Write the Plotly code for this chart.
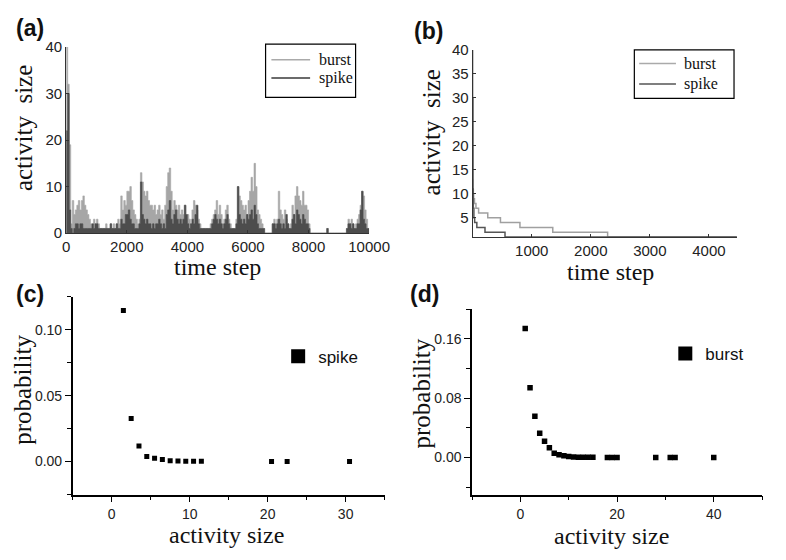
import numpy as np
import plotly.graph_objects as go

# ---------------- data ----------------
# (a) activity size time series, one value per 50 time steps (0 .. 9950)
step_width = 50
burst_series = [
    40, 32, 19, 2, 7, 4, 5, 6, 7, 5,
    7, 8, 6, 5, 4, 3, 2, 1, 3, 2,
    3, 2, 1, 1, 1, 1, 2, 1, 1, 2,
    1, 2, 1, 2, 3, 2, 8, 5, 7, 6,
    9, 9, 10, 7, 5, 4, 3, 2, 3, 13,
    11, 9, 8, 9, 7, 6, 6, 5, 6, 4,
    5, 6, 4, 5, 3, 6, 10, 13, 14, 9,
    5, 7, 6, 5, 6, 4, 5, 4, 6, 3,
    4, 3, 2, 5, 7, 6, 5, 3, 2, 1,
    1, 1, 1, 1, 1, 2, 3, 4, 5, 7,
    4, 6, 4, 2, 3, 5, 6, 3, 2, 1,
    1, 1, 3, 10, 8, 7, 6, 5, 6, 4,
    7, 9, 12, 9, 15, 10, 5, 4, 3, 2,
    1, 0, 0, 0, 0, 0, 2, 3, 2, 3,
    9, 5, 4, 3, 5, 3, 2, 1, 2, 6,
    4, 8, 10, 8, 7, 6, 9, 6, 6, 5,
    2, 0, 0, 0, 0, 0, 0, 0, 0, 0,
    0, 0, 1, 0, 0, 0, 0, 0, 0, 0,
    0, 0, 0, 0, 0, 1, 3, 2, 3, 2,
    1, 2, 3, 4, 6, 9, 8, 5, 3, 1,
]
spike_series = [
    22, 30, 5, 1, 0, 1, 2, 2, 1, 2,
    2, 1, 1, 1, 1, 1, 1, 2, 1, 2,
    2, 1, 1, 1, 1, 1, 1, 1, 1, 2,
    1, 1, 1, 2, 1, 1, 3, 2, 2, 4,
    4, 5, 3, 2, 2, 1, 1, 1, 2, 11,
    4, 3, 2, 3, 2, 2, 1, 2, 1, 2,
    2, 3, 2, 1, 2, 1, 4, 5, 7, 3,
    2, 4, 5, 3, 2, 3, 2, 3, 6, 4,
    2, 1, 2, 3, 2, 4, 6, 2, 1, 1,
    1, 1, 1, 1, 1, 1, 2, 3, 4, 3,
    2, 3, 2, 1, 2, 3, 4, 2, 1, 1,
    1, 1, 2, 10, 4, 3, 2, 3, 2, 4,
    3, 4, 5, 3, 6, 4, 2, 1, 1, 1,
    1, 0, 0, 0, 0, 0, 2, 2, 1, 2,
    3, 2, 1, 2, 1, 4, 2, 1, 1, 3,
    4, 2, 5, 4, 3, 2, 4, 3, 2, 2,
    1, 0, 0, 0, 0, 0, 0, 0, 0, 0,
    0, 0, 1, 0, 0, 0, 0, 0, 0, 0,
    0, 0, 0, 0, 0, 1, 2, 2, 1, 2,
    1, 1, 2, 2, 5, 9, 3, 2, 1, 1,
]
time_a = list(np.arange(len(burst_series)) * step_width) + [len(burst_series) * step_width]
time_ticks_a = [0, 2000, 4000, 6000, 8000, 10000]

# (b) sorted activity size vs time step (step curves)
burst_b_t = [0, 2, 5, 8, 15, 30, 55, 100, 255, 470, 800, 1356, 2285, 4475]
burst_b_v = [40, 20, 13, 10, 9, 8, 7, 6, 5, 4, 3, 2, 1, 1]
spike_b_t = [0, 3, 10, 20, 33, 70, 208, 547, 4475]
spike_b_v = [30, 11, 7, 5, 4, 3, 2, 1, 1]

# (c) spike size distribution
spike_size = [1.5, 2.5, 3.5, 4.5, 5.5, 6.5, 7.5, 8.5, 9.5, 10.5, 11.5, 20.5, 22.5, 30.5]
spike_prob = [0.1147, 0.0326, 0.0118, 0.0039, 0.0025, 0.0015, 0.0007, 0.0005,
              0.0003, 0.0002, 0.0002, 0.0001, 0.0001, 0.0001]

# (d) burst size distribution
burst_size = [1, 2, 3, 4, 5, 6, 7, 8, 9, 10, 11, 12, 13, 14, 15, 18, 19, 20, 28, 31, 32, 40]
burst_prob = [0.174, 0.094, 0.0557, 0.0327, 0.022, 0.013, 0.0057, 0.0035, 0.0022,
              0.0012, 0.0006, 0.0004, 0.0003, 0.0002, 0.0002, 0.0001, 0.0001, 0.0001,
              0.0001, 0.0001, 0.0001, 0.0001]

series_names = ["burst", "spike"]

# ---------------- layout helpers ----------------
# the page body has a default 8 px margin, so the figure is drawn 8 px in from the corner
OFF = 8
W, H = 786 - OFF, 560 - OFF

LIGHT = "#a6a6a6"
DARK = "#4d4d4d"
LEG_LIGHT = "#aaaaaa"
LEG_DARK = "#3a3a3a"
SANS = "Liberation Sans, Arial, sans-serif"
SERIF = "Liberation Serif, Times New Roman, serif"


def fx(p):
    return (p - OFF) / W


def fy(p):
    return 1 - (p - OFF) / H


def xd(a, b):
    return [fx(a), fx(b)]


def yd(top, bottom):
    return [fy(bottom), fy(top)]


fig = go.Figure()

# (a)
fig.add_trace(go.Scatter(x=time_a, y=burst_series + [burst_series[-1]], mode="lines",
                         line=dict(shape="hv", color=LIGHT, width=0.6), fill="tozeroy",
                         fillcolor=LIGHT, name="burst", showlegend=False, xaxis="x", yaxis="y"))
fig.add_trace(go.Scatter(x=time_a, y=spike_series + [spike_series[-1]], mode="lines",
                         line=dict(shape="hv", color=DARK, width=0.6), fill="tozeroy",
                         fillcolor=DARK, name="spike", showlegend=False, xaxis="x", yaxis="y"))
# (b)
fig.add_trace(go.Scatter(x=burst_b_t, y=burst_b_v, mode="lines",
                         line=dict(shape="hv", color="#a0a0a0", width=1.5),
                         name="burst", showlegend=False, xaxis="x2", yaxis="y2"))
fig.add_trace(go.Scatter(x=spike_b_t, y=spike_b_v, mode="lines",
                         line=dict(shape="hv", color="#555555", width=1.5),
                         name="spike", showlegend=False, xaxis="x2", yaxis="y2"))
# (c)
fig.add_trace(go.Scatter(x=spike_size, y=spike_prob, mode="markers",
                         marker=dict(symbol="square", size=5, color="black"),
                         showlegend=False, xaxis="x3", yaxis="y3"))
fig.add_trace(go.Scatter(x=[None], y=[None], mode="markers",
                         marker=dict(symbol="square", size=14, color="black"),
                         name="spike", xaxis="x3", yaxis="y3", legend="legend3"))
# (d)
fig.add_trace(go.Scatter(x=burst_size, y=burst_prob, mode="markers",
                         marker=dict(symbol="square", size=5.5, color="black"),
                         showlegend=False, xaxis="x4", yaxis="y4"))
fig.add_trace(go.Scatter(x=[None], y=[None], mode="markers",
                         marker=dict(symbol="square", size=14, color="black"),
                         name="burst", xaxis="x4", yaxis="y4", legend="legend4"))

tick_ab = dict(family=SANS, size=15, color="#222")
tick_cd = dict(family=SANS, size=14, color="#222")

common_ab = dict(showgrid=False, zeroline=False, showline=True, linecolor="#333", linewidth=1,
                 ticks="inside", ticklen=3, tickcolor="#333", tickfont=tick_ab)
common_cd = dict(showgrid=False, zeroline=False, showline=True, linecolor="black", linewidth=1.5,
                 ticks="outside", ticklen=6, tickwidth=1.2, tickcolor="black", tickfont=tick_cd)

fig.update_layout(
    width=W, height=H, margin=dict(l=0, r=0, t=0, b=0),
    paper_bgcolor="white", plot_bgcolor="white",
    xaxis=dict(domain=xd(64, 377), anchor="y", range=[0, 10000],
               tickvals=time_ticks_a, ticktext=[str(v) for v in time_ticks_a], **common_ab),
    yaxis=dict(domain=yd(39, 231), anchor="x", range=[0, 40],
               tickvals=[0, 10, 20, 30, 40], **common_ab),
    xaxis2=dict(domain=xd(484, 757), anchor="y2", range=[0, 4475],
                tickvals=[1000, 2000, 3000, 4000], **common_ab),
    yaxis2=dict(domain=yd(42, 235), anchor="x2", range=[1, 40],
                tickvals=[5, 10, 15, 20, 25, 30, 35, 40], **common_ab),
    xaxis3=dict(domain=xd(70.7, 393), anchor="y3", range=[-5, 35], dtick=10, tick0=0,
                minor=dict(dtick=5, ticks="outside", ticklen=4, tickcolor="black"), **common_cd),
    yaxis3=dict(domain=yd(296.7, 500.7), anchor="x3", range=[-0.025, 0.125], dtick=0.05, tick0=0,
                tickformat=".2f",
                minor=dict(dtick=0.025, ticks="outside", ticklen=4, tickcolor="black"), **common_cd),
    xaxis4=dict(domain=xd(483.3, 783), anchor="y4", range=[-10, 50], dtick=20, tick0=0,
                minor=dict(dtick=10, ticks="outside", ticklen=4, tickcolor="black"), **common_cd),
    yaxis4=dict(domain=yd(309.5, 500.7), anchor="x4", range=[-0.05, 0.2], dtick=0.08, tick0=0,
                tickformat=".2f",
                minor=dict(dtick=0.04, ticks="outside", ticklen=4, tickcolor="black"), **common_cd),
    legend3=dict(x=fx(283), y=fy(340), xanchor="left", yanchor="top",
                 bgcolor="rgba(0,0,0,0)", font=dict(family=SANS, size=17, color="#111")),
    legend4=dict(x=fx(683), y=fy(337), xanchor="left", yanchor="top",
                 bgcolor="rgba(0,0,0,0)", font=dict(family=SANS, size=17, color="#111")),
    showlegend=True,
)

annotations = []
shapes = []


def txt(x, y, text, size, family, angle=0, xanchor="center"):
    annotations.append(dict(x=fx(x), y=fy(y), xref="paper", yref="paper", text=text,
                            showarrow=False, textangle=angle, xanchor=xanchor, yanchor="middle",
                            font=dict(family=family, size=size, color="#111")))


def boxed_legend(x0, y0, x1, y1, line_x0, line_x1, text_x, rows, colors):
    shapes.append(dict(type="rect", xref="paper", yref="paper", x0=fx(x0), x1=fx(x1),
                       y0=fy(y1), y1=fy(y0), line=dict(color="black", width=1.2),
                       fillcolor="white", layer="above"))
    for name, ry, col in zip(series_names, rows, colors):
        shapes.append(dict(type="line", xref="paper", yref="paper", x0=fx(line_x0), x1=fx(line_x1),
                           y0=fy(ry), y1=fy(ry), line=dict(color=col, width=1.5), layer="above"))
        txt(text_x, ry, name, 16, SERIF, xanchor="left")


boxed_legend(270, 36, 363, 91, 276, 316, 323, [52, 71], [LEG_LIGHT, LEG_DARK])
boxed_legend(651, 42, 754, 92, 656, 694, 700, [56, 77], [LEG_LIGHT, "#555555"])

# panel labels
txt(27, 19, "<b>(a)</b>", 23, SANS)
txt(438, 22, "<b>(b)</b>", 23, SANS)
txt(27, 294, "<b>(c)</b>", 23, SANS)
txt(434, 294, "<b>(d)</b>", 23, SANS)
# axis titles
txt(20, 123, "activity&nbsp;&nbsp;size", 25, SERIF, angle=-90)
txt(220, 266, "time step", 24, SERIF)
txt(441, 127, "activity&nbsp;&nbsp;size", 25, SERIF, angle=-90)
txt(626, 271, "time step", 24, SERIF)
txt(18, 393, "probability", 25, SERIF, angle=-90)
txt(230, 542, "activity size", 24, SERIF)
txt(431, 396, "probability", 25, SERIF, angle=-90)
txt(627, 544, "activity size", 24, SERIF)

fig.update_layout(annotations=annotations, shapes=shapes)

fig.write_html("out.html")
